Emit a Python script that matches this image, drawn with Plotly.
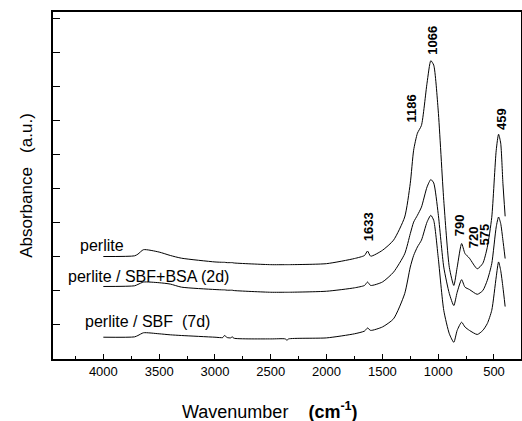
import plotly.graph_objects as go

wavenumber = [4000, 3720, 3690, 3640, 3500, 3400, 3300, 3000, 2930, 2915, 2890, 2860, 2845, 2830,
              2500, 2370, 2355, 2340, 2000, 1750, 1660, 1633, 1605,
              1500, 1400, 1300, 1250, 1220, 1186, 1150, 1100, 1066, 1040, 1000, 950, 900, 860,
              830, 790, 760, 720, 650, 600, 560, 520, 480, 459, 440, 420, 400]

perlite = [3.01, 3.03, 3.08, 3.21, 3.14, 3.04, 2.96, 2.85, 2.84, 2.84, 2.83, 2.83, 2.83, 2.82,
           2.77, 2.77, 2.77, 2.77, 2.80, 2.95, 3.04, 3.17, 3.02,
           3.19, 3.49, 4.17, 5.16, 6.13, 6.63, 6.86, 8.10, 8.76, 8.63, 7.31, 4.66, 2.69, 2.16,
           2.69, 3.39, 3.10, 2.96, 2.65, 2.81, 3.28, 4.16, 6.13, 6.60, 6.34, 5.16, 4.19]

sbf_bsa = [2.13, 2.15, 2.19, 2.26, 2.24, 2.20, 2.11, 2.04, 2.03, 2.03, 2.02, 2.02, 2.02, 2.01,
           1.96, 1.96, 1.96, 1.96, 1.99, 2.09, 2.16, 2.26, 2.16,
           2.26, 2.55, 3.09, 3.68, 4.02, 4.22, 4.46, 5.05, 5.27, 5.17, 4.27, 2.70, 1.92, 1.57,
           1.96, 2.33, 2.11, 2.04, 1.90, 2.01, 2.31, 2.80, 3.88, 4.17, 3.98, 3.49, 2.95]

sbf_7d = [0.64, 0.65, 0.69, 0.77, 0.74, 0.71, 0.69, 0.64, 0.63, 0.69, 0.63, 0.62, 0.65, 0.61,
          0.59, 0.59, 0.55, 0.59, 0.62, 0.74, 0.82, 0.91, 0.84,
          0.94, 1.18, 1.92, 2.70, 3.04, 3.29, 3.49, 4.02, 4.22, 4.07, 2.99, 1.43, 0.74, 0.49,
          0.84, 1.08, 0.94, 0.84, 0.72, 0.84, 1.04, 1.43, 2.41, 2.85, 2.60, 2.11, 1.54]

series_names = ["perlite", "perlite / SBF+BSA (2d)", "perlite / SBF  (7d)"]
series_values = [perlite, sbf_bsa, sbf_7d]

peak_labels = ["1066", "1186", "459", "1633", "790", "720", "575"]

x_ticks = [4000, 3500, 3000, 2500, 2000, 1500, 1000, 500]

FONT = "Arial, Liberation Sans, sans-serif"

fig = go.Figure()
for name, vals in zip(series_names, series_values):
    fig.add_trace(go.Scatter(x=wavenumber, y=vals, mode="lines", name=name,
                             line=dict(color="black", width=1, shape="spline", smoothing=0.6),
                             showlegend=False, hoverinfo="skip"))

# series labels (x in wavenumber, y in data units)
label_pos = [(4016, 3.34), (3595, 2.43), (3608, 1.10)]
for name, (lx, ly) in zip(series_names, label_pos):
    fig.add_annotation(x=lx, y=ly, text=name.replace("  ", "&nbsp; "), showarrow=False,
                       xref="x", yref="y", font=dict(family=FONT, size=16, color="black"))

# peak labels, rotated
peak_pos = [(1048, 9.37), (1240, 7.37), (434, 7.06), (1628, 3.87), (813, 3.93), (681, 3.57), (589, 3.66)]
for txt, (px, py) in zip(peak_labels, peak_pos):
    fig.add_annotation(x=px, y=py, text="<b>%s</b>" % txt, showarrow=False, textangle=-90,
                       xref="x", yref="y", font=dict(family=FONT, size=13, color="black"))

# x-axis title (offset to the left of the axis centre, as in the original)
fig.add_annotation(x=0.4637, y=-0.149, xref="paper", yref="paper", showarrow=False,
                   text="Wavenumber &nbsp; &nbsp;<b>(cm<sup>-1</sup>)</b>",
                   font=dict(family=FONT, size=18, color="black"), yanchor="middle")

fig.update_layout(
    width=522, height=421, autosize=False,
    margin=dict(l=53, r=1, t=12, b=62),
    paper_bgcolor="white", plot_bgcolor="white",
    font=dict(family=FONT, size=13, color="black"),
)
fig.update_xaxes(
    range=[4451, 258], tickvals=x_ticks, ticktext=[str(v) for v in x_ticks],
    ticks="inside", ticklen=5, tickwidth=1, tickcolor="black",
    minor=dict(tickvals=[4250, 3750, 3250, 2750, 2250, 1750, 1250, 750, 250],
               ticks="inside", ticklen=3, tickcolor="black"),
    showline=True, linecolor="black", linewidth=1.5, mirror=True,
    showgrid=False, zeroline=False, automargin=False,
    tickfont=dict(family=FONT, size=13),
)
fig.update_yaxes(
    range=[0, 10.19], tick0=0, dtick=1, showticklabels=False,
    ticks="inside", ticklen=7, tickwidth=1, tickcolor="black",
    showline=True, linecolor="black", linewidth=1.5, mirror=True,
    showgrid=False, zeroline=False, automargin=False,
    title=dict(text="Absorbance &nbsp; (a.u.)", font=dict(family=FONT, size=17), standoff=14),
)

post = ("document.body.style.margin='0';document.body.style.padding='0';"
        "document.body.style.overflow='hidden';"
        "Plotly.relayout('{plot_id}', {width: 522, height: 421});")

fig.write_html("out.html", config={"responsive": False, "displayModeBar": False}, post_script=post)
